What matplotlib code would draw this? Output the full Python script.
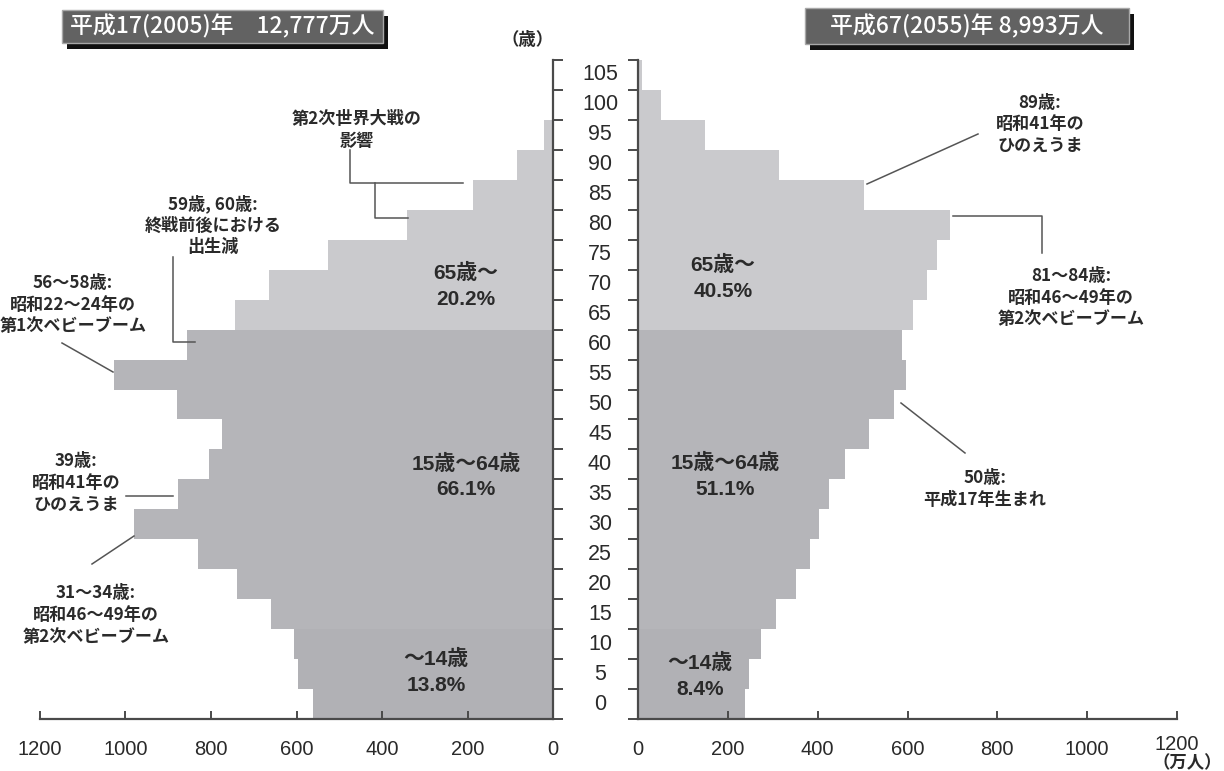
import matplotlib
matplotlib.use("Agg")
import matplotlib.pyplot as plt
from matplotlib.patches import Rectangle
from matplotlib.transforms import blended_transform_factory, ScaledTranslation
import numpy as np

# ---------------- data ----------------
age_starts = list(range(0, 110, 5))           # 5-year bands 0-4 ... 105-109
age_labels = [str(a) for a in age_starts]     # 0 ... 105
pop_2005 = [561, 596, 607, 659, 739, 830, 979, 878, 805, 775,
            880, 1026, 855, 744, 664, 527, 342, 186, 85, 20, 3, 0]
pop_2055 = [238, 247, 274, 307, 352, 382, 402, 425, 460, 515,
            571, 596, 587, 613, 643, 665, 694, 503, 314, 150, 52, 10]
x_ticks = [0, 200, 400, 600, 800, 1000, 1200]
title_2005 = "平成17(2005)年　12,777万人"
title_2055 = "平成67(2055)年 8,993万人"
share_2005 = ["65歳～\n20.2%", "15歳～64歳\n66.1%", "～14歳\n13.8%"]
share_2055 = ["65歳～\n40.5%", "15歳～64歳\n51.1%", "～14歳\n8.4%"]

# ---------------- style ----------------
W, H = 1224, 771
FONT = ['Liberation Sans', 'Noto Sans CJK JP']
JFONT = ['Noto Sans CJK JP', 'Liberation Sans']
plt.rcParams['font.family'] = FONT
C_OLD = '#cacacd'
C_MID = '#b5b5b9'
C_YOUNG = '#b1b1b5'
C_AX = '#4a4a4a'
C_TXT = '#2a2a2a'

def band_color(a):
    if a >= 65:
        return C_OLD
    if a >= 15:
        return C_MID
    return C_YOUNG

fig = plt.figure(figsize=(W / 100, H / 100), dpi=100)

def fx(px):
    return px / W

def fy(py):
    return 1 - py / H

axL = fig.add_axes([fx(40), fy(719), fx(553) - fx(40), fy(60) - fy(719)])
axR = fig.add_axes([fx(638), fy(719), fx(1177) - fx(638), fy(60) - fy(719)])

colors = [band_color(a) for a in age_starts]
axL.barh(age_starts, pop_2005, height=5, align='edge', color=colors, linewidth=0)
axR.barh(age_starts, pop_2055, height=5, align='edge', color=colors, linewidth=0)

for ax, side in ((axL, 'right'), (axR, 'left')):
    ax.set_ylim(0, 110)
    ax.set_facecolor('none')
    for s in ('top', 'left', 'right', 'bottom'):
        ax.spines[s].set_visible(False)
    ax.spines[side].set_visible(True)
    ax.spines['bottom'].set_visible(True)
    for s in (side, 'bottom'):
        ax.spines[s].set_color(C_AX)
        ax.spines[s].set_linewidth(1.6)
    ax.set_yticks(list(range(0, 111, 5)))
    ax.set_yticklabels([])
    ax.set_xticks(x_ticks)
    ax.set_xticklabels([str(t) for t in x_ticks])
    ax.tick_params(axis='x', direction='in', length=6, width=1.4, color=C_AX,
                   labelsize=14.5, labelcolor=C_TXT, pad=15)
    ax.tick_params(axis='y', direction='out', length=7, width=1.4, color=C_AX)

axL.set_xlim(1200, 0)
axL.yaxis.tick_right()
axR.set_xlim(0, 1200)
axR.yaxis.tick_left()

# last right tick label sits a little higher to leave room for the unit
last = axR.get_xticklabels()[-1]
last.set_transform(last.get_transform() + ScaledTranslation(0, 5 / 100, fig.dpi_scale_trans))

# age labels centred in the gap
tr = blended_transform_factory(fig.transFigure, axR.transData)
for a, lab in zip(age_starts, age_labels):
    fig.text(fx(600), a + 2.5, lab, transform=tr, ha='center', va='center',
             fontsize=15.5, color=C_TXT)

# unit labels
fig.text(fx(528), fy(40), "（歳）", ha='center', va='center', fontsize=12.5,
         fontweight='bold', family=JFONT, color=C_TXT)
fig.text(fx(1187), fy(763), "（万人）", ha='center', va='center', fontsize=12.5,
         fontweight='bold', family=JFONT, color=C_TXT)

# title boxes
def title_box(x0, y0, x1, y1, text):
    sh = Rectangle((fx(x0 + 5), fy(y1 + 6)), fx(x1 - x0), fy(y0) - fy(y1),
                   transform=fig.transFigure, facecolor='#111111', edgecolor='none')
    bx = Rectangle((fx(x0), fy(y1)), fx(x1 - x0), fy(y0) - fy(y1),
                   transform=fig.transFigure, facecolor='#626262',
                   edgecolor='#a8a8a8', linewidth=1)
    fig.add_artist(sh)
    fig.add_artist(bx)
    fig.text(fx((x0 + x1) / 2), fy((y0 + y1) / 2), text, ha='center',
             va='center', fontsize=16.5, color='white', family=JFONT,
             fontweight='medium')

title_box(62, 10, 383, 43, title_2005)
title_box(805, 8, 1129, 44, title_2055)

# share labels
for ax, labs, xs, ys in ((axL, share_2005, (466, 466, 436), (72.3, 40.5, 7.8)),
                         (axR, share_2055, (723, 725, 700), (73.6, 40.6, 7.2))):
    t = blended_transform_factory(fig.transFigure, ax.transData)
    for lab, xp, ymid in zip(labs, xs, ys):
        fig.text(fx(xp), ymid, lab, transform=t, ha='center', va='center',
                 fontsize=15, fontweight='bold', color=C_TXT,
                 linespacing=1.45)

# annotations (pixel coordinates)
def ann(x, y, text):
    fig.text(fx(x), fy(y), text, ha='center', va='center', fontsize=12.3,
             fontweight='bold', family=JFONT, color=C_TXT, linespacing=1.25)

def line(pts):
    xs = [fx(p[0]) for p in pts]
    ys = [fy(p[1]) for p in pts]
    fig.add_artist(plt.Line2D(xs, ys, transform=fig.transFigure,
                              color='#555555', linewidth=1.1))

ann(357, 130, "第2次世界大戦の\n影響")
line([(350, 150), (350, 183), (463, 183)])
line([(375, 183), (375, 218), (408, 218)])

ann(213, 225, "59歳, 60歳:\n終戦前後における\n出生減")
line([(173, 257), (173, 342), (195, 342)])

ann(73, 305, "56～58歳:\n昭和22～24年の\n第1次ベビーブーム")
line([(62, 343), (113, 372)])

ann(76, 483, "39歳:\n昭和41年の\nひのえうま")
line([(126, 496), (173, 496)])

ann(96, 615, "31～34歳:\n昭和46～49年の\n第2次ベビーブーム")
line([(92, 564), (134, 536)])

ann(1040, 124, "89歳:\n昭和41年の\nひのえうま")
line([(978, 134), (867, 184)])

ann(1071, 298, "81～84歳:\n昭和46～49年の\n第2次ベビーブーム")
line([(953, 216), (1042, 216), (1042, 253)])

ann(985, 489, "50歳:\n平成17年生まれ")
line([(901, 403), (965, 453)])

fig.savefig("out.png", dpi=100)
